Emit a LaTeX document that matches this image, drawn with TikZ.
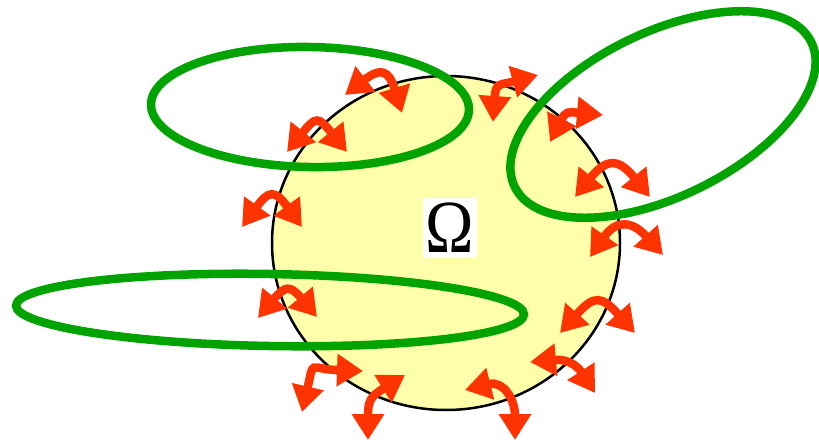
\documentclass[tikz,border=0pt]{standalone}
\usepackage{fontspec}
\usepackage{graphicx}
\setmainfont{Liberation Serif}
\usetikzlibrary{arrows.meta}
\definecolor{arrred}{RGB}{255,51,0}
\definecolor{ringgreen}{RGB}{0,163,0}
\definecolor{domyellow}{RGB}{255,254,170}
\tikzset{
  greenring/.style={draw=ringgreen, line width=8.5pt},
  redarr/.style={draw=arrred, line width=8.5pt,
    arrows={Triangle[length=26pt,width=31pt]-Triangle[length=26pt,width=31pt]}},
  omegabox/.style={fill=white, inner sep=0pt, minimum width=54pt, minimum height=60pt,
    font=\fontsize{75}{75}\selectfont}
}
\begin{document}
\begin{tikzpicture}[x=1pt,y=1pt]
\useasboundingbox (0,0) rectangle (819,-444);
% domain
\draw[fill=domyellow, line width=2.5pt] (446,-243) ellipse [x radius=174, y radius=167];
% green rings
\draw[greenring, rotate around={-1:(310,-107)}] (310,-107) ellipse [x radius=159, y radius=60];
\draw[greenring, rotate around={26:(663,-114.5)}] (663,-114.5) ellipse [x radius=165, y radius=82];
\draw[greenring, rotate around={-1:(270,-310)}] (270,-310) ellipse [x radius=254, y radius=36];
% label
\node[omegabox] (om) at (450,-228) {\scalebox{0.87}[1]{Ω}};
% arrow end points
\coordinate (a1s) at (345,-95);  \coordinate (a1e) at (402,-113);
\coordinate (a2s) at (287,-152); \coordinate (a2e) at (347,-152);
\coordinate (a3s) at (242,-227); \coordinate (a3e) at (302,-227);
\coordinate (a4s) at (258,-318); \coordinate (a4e) at (317,-317);
\coordinate (a5s) at (302,-412); \coordinate (a5e) at (363,-371);
\coordinate (a6s) at (368,-440); \coordinate (a6e) at (405,-375);
\coordinate (a7s) at (465,-390); \coordinate (a7e) at (515,-440);
\coordinate (a8s) at (493,-122); \coordinate (a8e) at (538,-75);
\coordinate (a9s) at (550,-142); \coordinate (a9e) at (603,-115);
\coordinate (a10s) at (575,-197); \coordinate (a10e) at (650,-197);
\coordinate (a11s) at (590,-257); \coordinate (a11e) at (663,-255);
\coordinate (a12s) at (560,-333); \coordinate (a12e) at (635,-333);
\coordinate (a13s) at (530,-362); \coordinate (a13e) at (595,-393);
% arrows
\draw[redarr] (a1s) to[out=38, in=107, distance=45pt] (a1e);
\draw[redarr] (a2s) to[out=51, in=129, distance=46pt] (a2e);
\draw[redarr] (a3s) to[out=54, in=126, distance=46pt] (a3e);
\draw[redarr] (a4s) to[out=50, in=130, distance=42pt] (a4e);
\draw[redarr] (a5s) to[out=77, in=178, distance=55pt] (a5e);
\draw[redarr] (a6s) to[out=90, in=212, distance=40pt] (a6e);
\draw[redarr] (a7s) to[out=14, in=90, distance=40pt] (a7e);
\draw[redarr] (a8s) to[out=86, in=195, distance=40pt] (a8e);
\draw[redarr] (a9s) to[out=63, in=175, distance=35pt] (a9e);
\draw[redarr] (a10s) to[out=51, in=129, distance=50pt] (a10e);
\draw[redarr] (a11s) to[out=55, in=132, distance=46pt] (a11e);
\draw[redarr] (a12s) to[out=48, in=132, distance=51pt] (a12e);
\draw[redarr] (a13s) to[out=5, in=123, distance=35pt] (a13e);
\end{tikzpicture}
\end{document}
